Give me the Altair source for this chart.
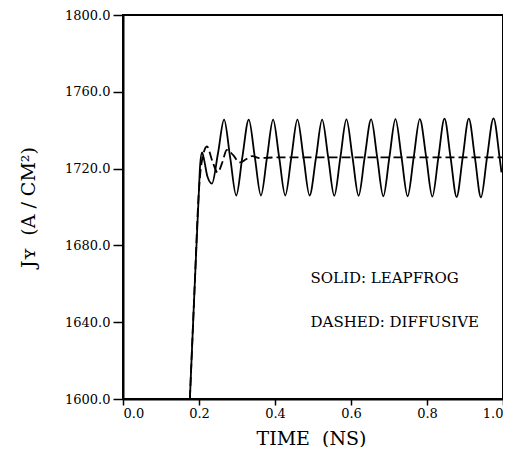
import altair as alt
import pandas as pd

# ---- data ----
solid_t = [0.176, 0.188, 0.199, 0.203, 0.208, 0.214, 0.222, 0.234, 0.250,
           0.266, 0.282, 0.298, 0.314, 0.331, 0.347, 0.363, 0.379, 0.395, 0.411,
           0.427, 0.443, 0.459, 0.475, 0.491, 0.508, 0.524, 0.540, 0.556, 0.572,
           0.588, 0.604, 0.620, 0.636, 0.653, 0.669, 0.685, 0.701, 0.717, 0.733,
           0.749, 0.765, 0.781, 0.798, 0.814, 0.830, 0.846, 0.862, 0.878, 0.894,
           0.910, 0.926, 0.942, 0.958, 0.975, 0.991, 0.996]
solid_v = [1600.0, 1656.0, 1705.0, 1722.0, 1728.5, 1724.0, 1716.0, 1712.2, 1728.0,
           1745.5, 1725.8, 1706.0, 1725.8, 1745.5, 1725.8, 1706.0, 1725.8, 1745.5, 1725.8,
           1706.0, 1725.8, 1745.5, 1725.8, 1706.0, 1725.8, 1745.5, 1725.8, 1705.8, 1725.8,
           1745.6, 1725.8, 1705.8, 1725.8, 1745.6, 1725.8, 1705.6, 1725.8, 1745.8, 1725.8,
           1705.6, 1725.8, 1745.8, 1725.8, 1705.4, 1725.8, 1746.0, 1725.8, 1705.2, 1725.8,
           1746.0, 1725.8, 1705.0, 1725.8, 1746.2, 1725.8, 1718.0]

dashed_t = [0.176, 0.188, 0.199, 0.206, 0.221, 0.235, 0.249, 0.261, 0.273, 0.290,
            0.307, 0.325, 0.340, 0.360, 0.400, 0.500, 0.600, 0.700, 0.800, 0.900, 1.000]
dashed_v = [1600.0, 1656.0, 1706.0, 1722.0, 1731.5, 1724.0, 1718.0, 1723.0, 1729.7, 1727.0,
            1723.2, 1725.0, 1726.5, 1725.5, 1725.8, 1725.8, 1725.8, 1725.8, 1725.8, 1725.8, 1725.8]

x_ticks = [0.0, 0.2, 0.4, 0.6, 0.8, 1.0]
y_ticks = [1600, 1640, 1680, 1720, 1760, 1800]

label_lines = ["SOLID: LEAPFROG", "DASHED: DIFFUSIVE"]
label_t = [0.4935, 0.4935]
label_v = [1663.0, 1640.0]

SERIF = "DejaVu Serif"
NB = "\u00A0"

solid_df = pd.DataFrame({"t": solid_t, "v": solid_v})
dashed_df = pd.DataFrame({"t": dashed_t, "v": dashed_v})
label_df = pd.DataFrame({"t": label_t, "v": label_v, "text": label_lines})

x_enc = alt.X("t:Q",
              scale=alt.Scale(domain=[0, 1], nice=False, zero=False),
              axis=alt.Axis(values=x_ticks, format=".1f", title="TIME" + NB + NB + "(NS)",
                            tickSize=6, labelPadding=2, titleX=188, titleY=45,
                            titleBaseline="alphabetic", titleFontSize=19))
y_enc = alt.Y("v:Q",
              scale=alt.Scale(domain=[1600, 1800], nice=False, zero=False),
              axis=alt.Axis(values=y_ticks, format=".1f",
                            title="J\u028F" + NB + NB + "(A" + NB + "/" + NB + "CM\u00B2)",
                            tickSize=10, labelPadding=3, titleX=-95,
                            titleBaseline="middle", titleFontSize=19))

solid = alt.Chart(solid_df).mark_line(
    color="black", strokeWidth=1.8, interpolate="monotone", clip=True
).encode(x=x_enc, y=y_enc)

dashed = alt.Chart(dashed_df).mark_line(
    color="black", strokeWidth=1.8, interpolate="monotone", clip=True,
    strokeDash=[9, 4]
).encode(x="t:Q", y="v:Q")

labels = alt.Chart(label_df).mark_text(
    align="left", baseline="middle", font=SERIF, fontSize=15, color="black"
).encode(x="t:Q", y="v:Q", text="text:N")

chart = alt.layer(solid, dashed, labels).properties(
    width=380, height=384,
    autosize=alt.AutoSizeParams(type="none"),
    padding={"left": 115, "top": 7, "right": 0, "bottom": 48},
).configure_view(
    stroke="black", strokeWidth=2
).configure_axis(
    grid=False,
    domainColor="black", domainWidth=2,
    tickColor="black", tickWidth=1.5,
    labelFont=SERIF, labelFontSize=13, labelColor="black",
    titleFont=SERIF, titleFontWeight="normal", titleColor="black",
)

chart.save("out.html", embed_options={"renderer": "svg", "actions": False})
